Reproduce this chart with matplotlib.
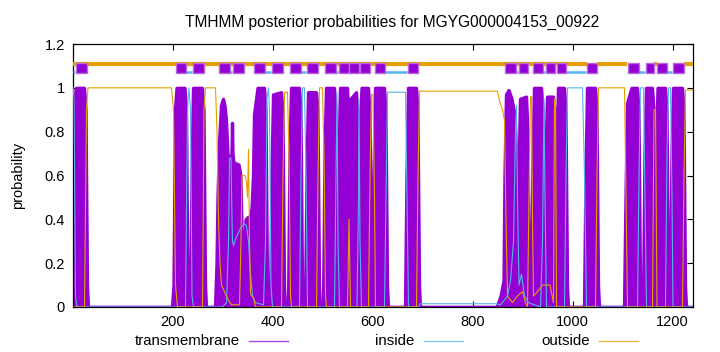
import matplotlib
matplotlib.use("Agg")
import matplotlib.pyplot as plt
from matplotlib.lines import Line2D

plt.rcParams['font.family'] = ['Liberation Sans', 'DejaVu Sans']

seq_len = 1240
title = "TMHMM posterior probabilities for MGYG000004153_00922"

# predicted helices (start, end)
tm_regions = [(6, 28), (206, 226), (240, 262), (292, 314), (320, 342), (362, 384),
              (398, 420), (434, 456), (468, 490), (504, 526), (532, 552), (552, 572),
              (574, 594), (604, 624), (670, 690), (864, 886), (892, 910), (920, 940),
              (946, 964), (968, 986), (1028, 1048), (1110, 1132), (1146, 1162),
              (1168, 1188), (1200, 1222)]
inside_regions = [(1, 5), (227, 239), (315, 319), (385, 397), (457, 467), (527, 531),
                  (572, 574), (625, 669), (887, 891), (941, 945), (987, 1027),
                  (1133, 1145), (1189, 1199)]
outside_regions = [(1, 1028), (1048, 1108), (1162, 1168), (1222, 1240)]

# posterior probabilities (position, probability)
tm_prob = [(1, 0.0), (2, 0.3), (4, 0.95), (7, 1.0), (23, 1.0), (26, 0.9), (29, 0.1), (31, 0.0),
           (199, 0.0), (202, 0.1), (205, 0.9), (208, 1.0), (224, 1.0), (227, 0.9), (230, 0.05), (233, 0.0),
           (235, 0.0), (238, 0.6), (241, 1.0), (259, 1.0), (262, 0.9), (265, 0.1), (267, 0.0),
           (285, 0.0), (288, 0.2), (290, 0.5), (293, 0.75), (297, 0.92), (301, 0.95), (304, 0.92),
           (307, 0.85), (310, 0.7), (312, 0.68), (316, 0.67), (318, 0.7), (319, 0.84), (320, 0.7),
           (322, 0.66), (332, 0.65), (336, 0.6), (338, 0.35), (340, 0.3), (344, 0.32), (346, 0.4),
           (350, 0.41), (354, 0.41), (358, 0.45), (361, 0.6), (363, 0.88), (366, 0.93), (370, 1.0),
           (383, 1.0), (386, 0.9), (389, 0.1), (391, 0.0),
           (395, 0.0), (398, 0.6), (401, 0.97), (417, 0.98), (420, 0.9), (423, 0.1), (425, 0.0),
           (431, 0.0), (434, 0.7), (437, 1.0), (453, 1.0), (456, 0.9), (459, 0.1), (461, 0.0),
           (465, 0.0), (468, 0.6), (471, 0.98), (487, 0.98), (490, 0.9), (493, 0.1), (495, 0.0),
           (501, 0.0), (504, 0.7), (507, 1.0), (523, 1.0), (526, 0.9), (529, 0.1), (531, 0.0),
           (530, 0.0), (532, 0.7), (535, 1.0), (549, 1.0), (551, 0.9), (553, 0.7), (556, 0.95),
           (567, 0.98), (569, 0.9), (572, 0.3), (574, 0.3), (576, 0.9), (578, 1.0), (591, 1.0),
           (594, 0.9), (597, 0.1), (599, 0.0),
           (600, 0.0), (602, 0.6), (605, 1.0), (623, 1.0), (626, 0.9), (629, 0.1), (631, 0.0),
           (665, 0.0), (668, 0.6), (671, 1.0), (687, 1.0), (690, 0.9), (693, 0.1), (695, 0.0),
           (848, 0.0), (856, 0.05), (862, 0.12), (864, 0.6), (867, 0.97), (872, 0.99), (878, 0.95),
           (884, 0.88), (887, 0.7), (889, 0.1), (891, 0.0),
           (890, 0.0), (892, 0.6), (895, 0.95), (907, 0.96), (910, 0.8), (913, 0.1), (915, 0.0),
           (917, 0.0), (920, 0.7), (923, 1.0), (937, 1.0), (940, 0.9), (943, 0.1), (945, 0.0),
           (944, 0.0), (946, 0.7), (949, 0.96), (961, 0.96), (964, 0.9), (966, 0.1), (968, 0.0),
           (966, 0.0), (968, 0.7), (971, 1.0), (983, 1.0), (986, 0.9), (989, 0.1), (991, 0.0),
           (1023, 0.0), (1026, 0.6), (1029, 1.0), (1045, 1.0), (1048, 0.9), (1051, 0.1), (1053, 0.0),
           (1103, 0.0), (1106, 0.5), (1109, 0.93), (1114, 0.97), (1118, 1.0), (1129, 1.0), (1132, 0.9),
           (1135, 0.1), (1137, 0.0),
           (1141, 0.0), (1144, 0.7), (1147, 1.0), (1159, 1.0), (1162, 0.9), (1165, 0.1), (1166, 0.0),
           (1165, 0.0), (1167, 0.7), (1170, 1.0), (1185, 1.0), (1188, 0.9), (1191, 0.1), (1193, 0.0),
           (1195, 0.0), (1198, 0.7), (1201, 1.0), (1219, 1.0), (1222, 0.9), (1225, 0.1), (1227, 0.0),
           (1240, 0.0)]

inside_prob = [(1, 1.0), (3, 0.95), (6, 0.05), (9, 0.0), (226, 0.0), (230, 0.9), (233, 1.0),
               (236, 0.9), (239, 0.05), (242, 0.0), (300, 0.0), (308, 0.02), (312, 0.3), (314, 0.68),
               (317, 0.68), (319, 0.4), (320, 0.3), (322, 0.28), (326, 0.31), (332, 0.34), (336, 0.36),
               (340, 0.37), (344, 0.38), (348, 0.37), (352, 0.3), (356, 0.15), (360, 0.05), (366, 0.02),
               (382, 0.01), (386, 0.3), (389, 0.95), (392, 1.0), (394, 0.9), (397, 0.1), (400, 0.0),
               (454, 0.0), (457, 0.6), (460, 1.0), (464, 1.0), (467, 0.6), (470, 0.0),
               (524, 0.0), (527, 0.6), (529, 0.98), (531, 0.3), (534, 0.0),
               (569, 0.0), (572, 0.5), (573, 0.95), (575, 0.3), (578, 0.0),
               (624, 0.0), (627, 0.5), (630, 0.98), (666, 0.98), (669, 0.5), (672, 0.0),
               (692, 0.0), (696, 0.015), (848, 0.015), (856, 0.01), (870, 0.05), (876, 0.12),
               (882, 0.3), (886, 0.8), (888, 0.92), (890, 0.5), (893, 0.1), (898, 0.15), (904, 0.05),
               (912, 0.02), (936, 0.0), (940, 0.3), (943, 0.95), (945, 0.5), (948, 0.0),
               (984, 0.0), (987, 0.6), (990, 1.0), (1020, 1.0), (1024, 0.6), (1028, 0.0),
               (1130, 0.0), (1133, 0.6), (1136, 1.0), (1142, 1.0), (1145, 0.5), (1148, 0.0),
               (1186, 0.0), (1189, 0.7), (1192, 1.0), (1196, 1.0), (1199, 0.5), (1201, 0.0),
               (1240, 0.0)]

outside_prob = [(1, 0.0), (24, 0.0), (28, 0.9), (31, 1.0), (198, 1.0), (202, 0.9), (206, 0.1),
                (210, 0.0), (260, 0.0), (263, 0.9), (266, 1.0), (286, 1.0), (289, 0.8), (292, 0.4),
                (295, 0.2), (298, 0.1), (306, 0.06), (312, 0.03), (318, 0.01), (334, 0.01),
                (337, 0.3), (339, 0.6), (345, 0.6), (348, 0.57), (350, 0.5), (352, 0.72), (354, 0.3),
                (356, 0.06), (362, 0.04), (366, 0.0),
                (418, 0.0), (421, 0.6), (424, 0.98), (430, 0.98), (433, 0.7), (436, 0.05), (438, 0.0),
                (488, 0.0), (491, 0.6), (494, 1.0), (500, 1.0), (503, 0.7), (506, 0.05), (508, 0.0),
                (550, 0.0), (553, 0.4), (556, 0.0),
                (592, 0.0), (595, 0.6), (598, 0.97), (601, 0.97), (604, 0.5), (606, 0.0),
                (688, 0.0), (691, 0.6), (694, 0.985), (850, 0.985), (854, 0.94), (860, 0.9),
                (864, 0.85), (867, 0.4), (870, 0.05), (880, 0.02), (890, 0.05), (900, 0.07),
                (906, 0.02), (910, 0.0), (913, 0.5), (916, 0.96), (918, 0.96), (920, 0.4), (922, 0.05),
                (930, 0.07), (940, 0.1), (946, 0.1), (955, 0.1), (962, 0.02), (964, 0.95), (966, 0.95),
                (968, 0.0),
                (1046, 0.0), (1049, 0.6), (1052, 1.0), (1104, 1.0), (1107, 0.5), (1110, 0.0),
                (1160, 0.0), (1163, 0.9), (1166, 0.9), (1169, 0.0),
                (1220, 0.0), (1223, 0.6), (1226, 0.99), (1240, 0.99)]

c_tm = '#9400d3'
c_in = '#56b4e9'
c_out = '#e69f00'

fig = plt.figure(figsize=(7.2, 3.52), dpi=100)
ax = fig.add_axes([73 / 720, 1 - 307 / 352, 620 / 720, 263 / 352])

tx = [p[0] for p in tm_prob]
ty = [p[1] for p in tm_prob]
ax.fill_between(tx, 0, ty, facecolor=c_tm, lw=2.4, edgecolor=c_tm, joinstyle='round', zorder=2)
ax.plot([p[0] for p in inside_prob], [p[1] for p in inside_prob], color=c_in, lw=0.8, zorder=3)
ax.plot([p[0] for p in outside_prob], [p[1] for p in outside_prob], color=c_out, lw=0.8, zorder=3)

# topology strip on top
for a, b in outside_regions:
    ax.plot([a, b], [1.109, 1.109], color=c_out, lw=3.0, solid_capstyle='butt', zorder=4)
for a, b in inside_regions:
    ax.plot([a, b], [1.072, 1.072], color=c_in, lw=1.8, solid_capstyle='butt', zorder=4)
ax.broken_barh([(a, b - a) for a, b in tm_regions], (1.066, 0.048),
               facecolor=c_tm, edgecolor='#b868e0', lw=1.0, zorder=5)

ax.set_xlim(1, seq_len + 1)
ax.set_ylim(0, 1.2)
ax.set_xticks([200, 400, 600, 800, 1000, 1200])
ax.set_yticks([0, 0.2, 0.4, 0.6, 0.8, 1.0, 1.2])
ax.set_yticklabels(['0', '0.2', '0.4', '0.6', '0.8', '1', '1.2'])
ax.tick_params(direction='in', top=True, right=True, length=4, labelsize=10.5, pad=6)
for s in ax.spines.values():
    s.set_linewidth(0.9)
ax.set_ylabel('probability', fontsize=10.5, labelpad=14)
fig.text(392 / 720, 1 - 22 / 352, title, ha='center', va='center', fontsize=11.2)

# legend in gnuplot style: label, then sample
legend_items = [('transmembrane', c_tm, 240, 249, 288),
                ('inside', c_in, 414, 424, 463),
                ('outside', c_out, 590, 599, 638)]
ly = 1 - 341 / 352
for label, col, tx_end, l0, l1 in legend_items:
    fig.text(tx_end / 720, ly, label, ha='right', va='center', fontsize=10.8)
    fig.add_artist(Line2D([l0 / 720, l1 / 720], [ly, ly], color=col, lw=1.0, alpha=0.75))

fig.savefig('out.png', dpi=100)
